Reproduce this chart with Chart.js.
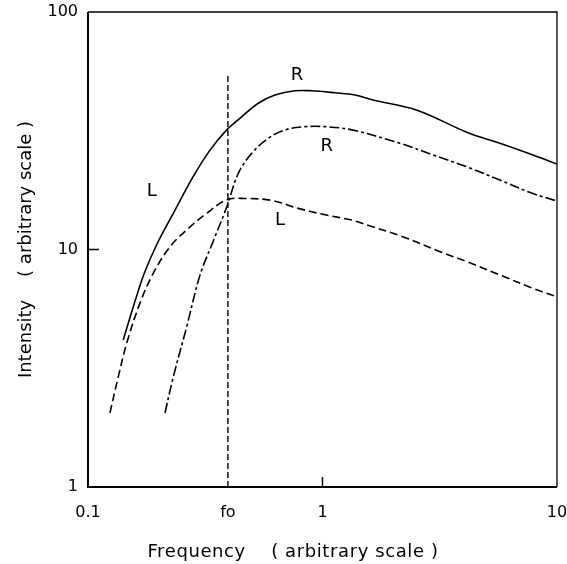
<!DOCTYPE html>
<html>
<head>
<meta charset="utf-8">
<script src="https://cdn.jsdelivr.net/npm/chart.js@4/dist/chart.umd.min.js"></script>
<style>
  html, body { margin: 0; padding: 0; background: #fff; }
  #wrap { width: 567px; height: 564px; }
</style>
</head>
<body>
<div id="wrap"><canvas id="spectrum" width="567" height="564"></canvas></div>
<script>
// resonance frequency marked on the x axis
const f0 = 0.395;

// tick values and labels
const xTickValues = [0.1, f0, 1, 10];
const xTickLabels = ["0.1", "fo", "1", "10"];
const yTickValues = [1, 10, 100];
const yTickLabels = ["1", "10", "100"];

// solid curve (L side rising, R peak)
const solidFreq = [0.1414, 0.156, 0.1733, 0.1969, 0.2311, 0.2812, 0.3314, 0.3904, 0.4521, 0.5323, 0.6272, 0.7634, 0.8994, 1.131, 1.376, 1.64, 2.53, 4.12, 5.71, 7.90, 10];
const solidInt  = [4.16, 5.74, 7.89, 10.55, 14.2, 20.3, 26.2, 31.9, 36.2, 41.3, 44.7, 46.6, 46.6, 45.7, 44.7, 42.6, 38.6, 31.2, 28.0, 25.0, 22.9];

// dash-dot curve (R)
const rFreq = [0.213, 0.2311, 0.2636, 0.3003, 0.3423, 0.3904, 0.4373, 0.499, 0.5873, 0.6921, 0.842, 1.025, 1.332, 2.14, 2.97, 4.12, 5.71, 7.90, 10];
const rInt  = [2.05, 2.91, 4.73, 7.8, 10.86, 15.1, 20.9, 25.4, 29.4, 31.9, 32.9, 32.9, 31.9, 28.0, 25.0, 22.3, 19.6, 17.2, 16.0];

// dashed curve (L)
const lFreq = [0.124, 0.1346, 0.1462, 0.1666, 0.190, 0.2237, 0.2636, 0.3208, 0.3904, 0.4672, 0.6071, 0.7884, 1.025, 1.332, 1.543, 2.21, 3.17, 4.12, 5.71, 7.90, 10];
const lInt  = [2.05, 2.91, 4.03, 5.95, 7.96, 10.27, 12.1, 14.2, 16.2, 16.4, 16.1, 14.9, 14.0, 13.3, 12.7, 11.3, 9.79, 8.89, 7.81, 6.86, 6.33];

// vertical marker at f0
const markerInt = [1, 54];

// curve labels: text, frequency, intensity
const curveLabels = [
  ["R", 0.778, 54.3],
  ["R", 1.042, 27.3],
  ["L", 0.187, 17.5],
  ["L", 0.659, 13.3]
];

const pts = (xs, ys) => xs.map((x, i) => ({ x: x, y: ys[i] }));
const FONT = "'DejaVu Sans', sans-serif";

// frame, inward ticks, curve labels and x title
const decorations = {
  id: "decorations",
  afterDraw(chart) {
    const { ctx, chartArea: a, scales } = chart;
    ctx.save();
    ctx.strokeStyle = "#000";
    ctx.lineWidth = 2;
    ctx.beginPath();
    ctx.moveTo(a.left, a.top);
    ctx.lineTo(a.left, a.bottom);
    ctx.lineTo(a.right, a.bottom);
    ctx.stroke();
    ctx.lineWidth = 1.3;
    ctx.beginPath();
    ctx.moveTo(a.left, a.top);
    ctx.lineTo(a.right, a.top);
    ctx.lineTo(a.right, a.bottom);
    ctx.stroke();

    ctx.lineWidth = 1.5;
    ctx.beginPath();
    const y10 = scales.y.getPixelForValue(10);
    ctx.moveTo(a.left, y10);
    ctx.lineTo(a.left + 11, y10);
    const x1 = scales.x.getPixelForValue(1);
    ctx.moveTo(x1, a.bottom);
    ctx.lineTo(x1, a.bottom - 10);
    ctx.stroke();

    ctx.fillStyle = "#000";
    ctx.font = "18px " + FONT;
    ctx.textAlign = "center";
    ctx.textBaseline = "middle";
    curveLabels.forEach(([t, fx, iy]) => {
      ctx.fillText(t, scales.x.getPixelForValue(fx), scales.y.getPixelForValue(iy));
    });

    ctx.letterSpacing = "0.6px";
    ctx.fillText("Frequency    ( arbitrary scale )", 293, 552);
    ctx.restore();
  }
};

const lineStyle = (extra) => Object.assign({
  borderColor: "#000",
  borderWidth: 1.6,
  pointRadius: 0,
  fill: false,
  tension: 0.35
}, extra);

new Chart(document.getElementById("spectrum"), {
  type: "line",
  data: {
    datasets: [
      lineStyle({ data: pts(solidFreq, solidInt) }),
      lineStyle({ data: pts(rFreq, rInt), borderDash: [10, 3, 3, 3] }),
      lineStyle({ data: pts(lFreq, lInt), borderDash: [8, 4] }),
      lineStyle({ data: pts([f0, f0], markerInt), borderDash: [6, 3], borderWidth: 1.4, tension: 0 })
    ]
  },
  options: {
    responsive: false,
    animation: false,
    layout: { padding: { top: 12, right: 10, left: 0, bottom: 0 } },
    plugins: { legend: { display: false }, tooltip: { enabled: false } },
    scales: {
      x: {
        type: "logarithmic",
        min: 0.1,
        max: 10,
        afterBuildTicks: (s) => { s.ticks = xTickValues.map((v) => ({ value: v })); },
        afterFit: (s) => { s.height = 77; s.paddingLeft = 0; s.paddingRight = 0; },
        grid: { display: false, drawTicks: false },
        border: { display: false },
        ticks: {
          autoSkip: false,
          maxRotation: 0,
          padding: 16,
          color: "#000",
          font: { family: FONT, size: 16 },
          callback: (v, i) => xTickLabels[i]
        }
      },
      y: {
        type: "logarithmic",
        min: 1,
        max: 100,
        afterBuildTicks: (s) => { s.ticks = yTickValues.map((v) => ({ value: v })); },
        afterFit: (s) => { s.width = 88; s.paddingTop = 0; s.paddingBottom = 0; },
        grid: { display: false, drawTicks: false },
        border: { display: false },
        ticks: {
          padding: 10,
          color: "#000",
          font: { family: FONT, size: 16 },
          callback: (v, i) => yTickLabels[i]
        },
        title: {
          display: true,
          text: "Intensity    ( arbitrary scale )",
          color: "#000",
          font: { family: FONT, size: 18 },
          padding: { top: 16, bottom: 0 }
        }
      }
    }
  },
  plugins: [decorations]
});
</script>
</body>
</html>
